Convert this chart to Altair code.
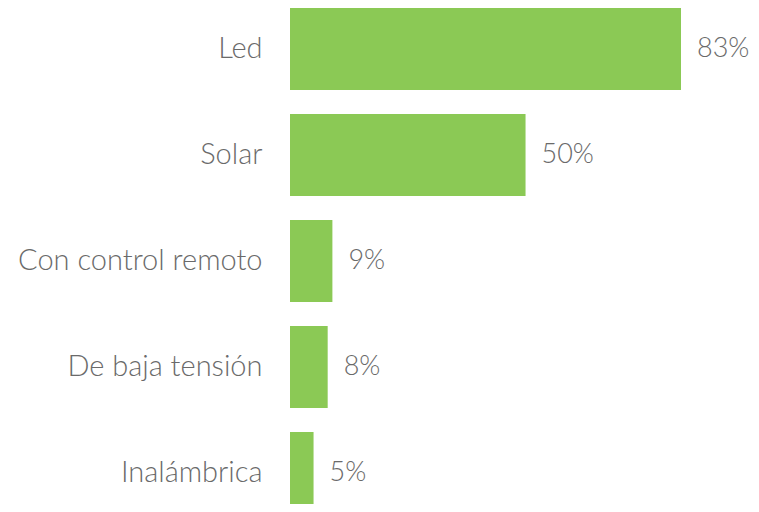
import altair as alt
import pandas as pd

categories = ["Led", "Solar", "Con control remoto", "De baja tensión", "Inalámbrica"]
values = [83, 50, 9, 8, 5]
labels = ["83%", "50%", "9%", "8%", "5%"]

df = pd.DataFrame({"cat": categories, "val": values, "lab": labels})

FONT = "Lato"
yscale = alt.Scale(paddingInner=0.2264, paddingOuter=0, range=[0, 506])
y = alt.Y("cat:N", sort=categories, title=None, scale=yscale,
          axis=alt.Axis(domain=False, ticks=False, labelFontSize=29, labelFont=FONT,
                        labelFontWeight=300, labelColor="#6a6a6a", labelPadding=28,
                        labelLimit=400))
x = alt.X("val:Q", title=None, axis=None, scale=alt.Scale(domain=[0, 97.86], nice=False))

bars = alt.Chart(df).mark_bar(color="#8bc955").encode(x=x, y=y)
text = alt.Chart(df).mark_text(align="left", baseline="middle", dx=16, fontSize=27,
                               font=FONT, fontWeight=300, color="#6a6a6a").encode(
    x=x, y=alt.Y("cat:N", sort=categories), text="lab:N")

chart = (bars + text).properties(
    width=461, height=496,
    autosize=alt.AutoSizeParams(type="none"),
    padding={"left": 282, "top": 0, "right": 0, "bottom": 0},
).configure_view(stroke=None)

chart.save("out.html", embed_options={"renderer": "svg", "actions": False})
